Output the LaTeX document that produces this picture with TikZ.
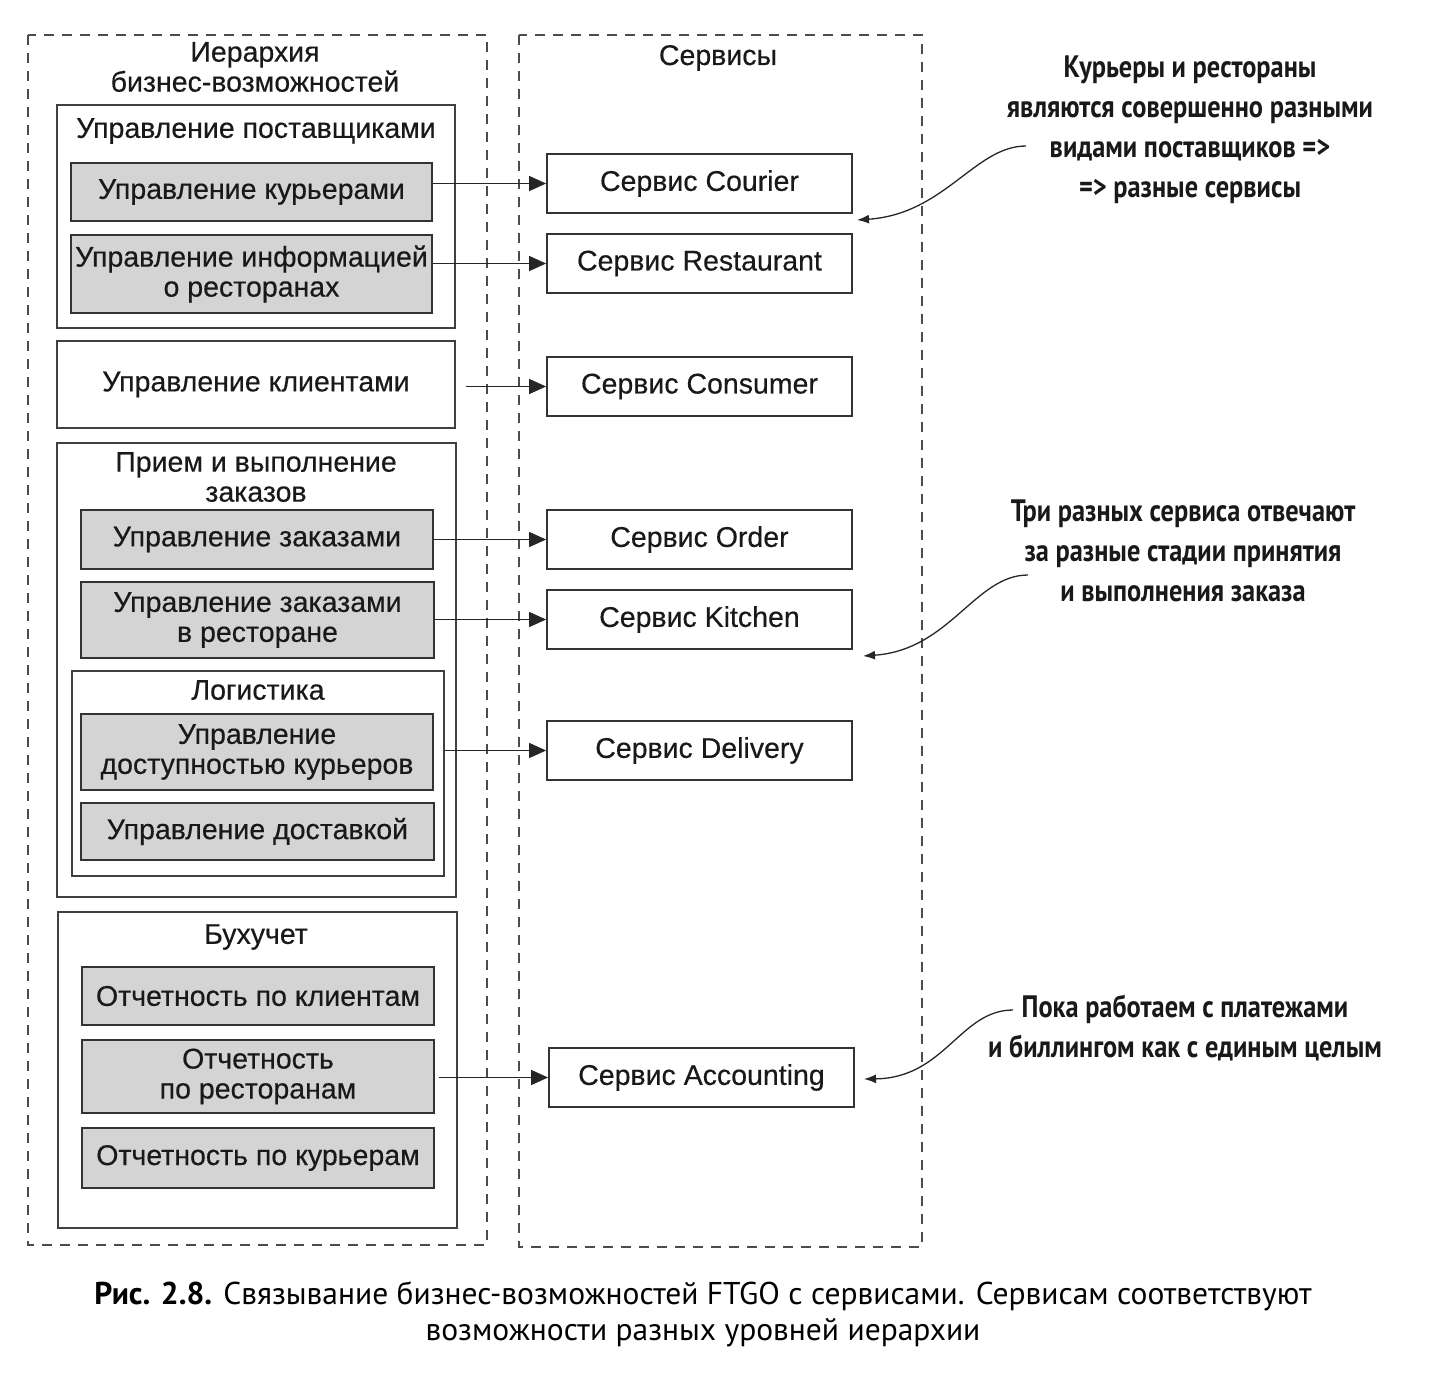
\documentclass[tikz,border=0pt]{standalone}
\usepackage{fontspec}
\setmainfont[FakeBold=0.4]{Liberation Sans}
\newfontfamily\notefont[FakeStretch=0.85]{PT Sans}
\newfontfamily\capfont{PT Sans}
\usetikzlibrary{arrows.meta, positioning}

\begin{document}
\begin{tikzpicture}[
    x=1pt, y=-1pt,
    every node/.style={font=\fontsize{28.5}{30}\selectfont, text=black!90, align=center, inner sep=0pt},
    dashframe/.style={draw=black!70, line width=1.3pt, dash pattern=on 10pt off 8pt},
    groupbox/.style={draw=black!75, line width=1.8pt, minimum width=398pt},
    capbox/.style={draw=black!80, line width=2pt, fill=black!17, minimum width=352pt},
    svcbox/.style={draw=black!80, line width=1.8pt, minimum width=305pt, minimum height=59pt},
    arrow/.style={-{Triangle[length=17pt,width=15pt]}, line width=1.5pt, black!85},
    notearrow/.style={-{Latex[length=12pt,width=9pt]}, line width=1.3pt, black!85},
    note/.style={font=\notefont\bfseries\fontsize{31}{40}\selectfont},
]
\useasboundingbox (0,0) rectangle (1432,1376);

% frames
\draw[dashframe] (28,35) rectangle (487,1245);
\draw[dashframe] (519,35) rectangle (922,1247);
\node (hiertitle) at (255,67) {Иерархия\\бизнес-возможностей};
\node (svctitle) at (718,58) {Сервисы};

% capability hierarchy
\node[groupbox, minimum height=223pt] (suppliers) at (256,216.5) {};
\node (supplierstitle) at (256,131) {Управление поставщиками};
\node[capbox, minimum width=361pt, minimum height=58pt] (courmgmt) at (251.5,192) {Управление курьерами};
\node[capbox, minimum width=361pt, minimum height=78pt] (restinfo) at (251.5,274) {Управление информацией\\о ресторанах};

\node[groupbox, minimum height=87pt] (clients) at (256,384.5) {Управление клиентами};

\node[groupbox, minimum width=399pt, minimum height=454pt] (orders) at (256.5,670) {};
\node (orderstitle) at (256,477) {Прием и выполнение\\заказов};
\node[capbox, minimum height=59pt] (ordermgmt) at (257,539.5) {Управление заказами};
\node[capbox, minimum width=353pt, minimum height=76pt] (restorder) at (257.5,620) {Управление заказами\\в ресторане};
\node[groupbox, minimum width=372pt, minimum height=205pt] (logistics) at (258,773.5) {};
\node (logisticstitle) at (258,690) {Логистика};
\node[capbox, minimum height=76pt] (availmgmt) at (257,752) {Управление\\доступностью курьеров};
\node[capbox, minimum width=353pt, minimum height=57pt] (delivmgmt) at (257.5,831.5) {Управление доставкой};

\node[groupbox, minimum width=399pt, minimum height=316pt] (accounting) at (257.5,1070) {};
\node (accountingtitle) at (256,937) {Бухучет};
\node[capbox, minimum height=58pt] (repclients) at (258,996) {Отчетность по клиентам};
\node[capbox, minimum height=73pt] (represt) at (258,1076.5) {Отчетность\\по ресторанам};
\node[capbox, minimum height=60pt] (repcour) at (258,1158) {Отчетность по курьерам};

% services
\node[svcbox] (svccourier) at (699.5,183.5) {Сервис Courier};
\node[svcbox] (svcrestaurant) at (699.5,263.5) {Сервис Restaurant};
\node[svcbox] (svcconsumer) at (699.5,386.5) {Сервис Consumer};
\node[svcbox] (svcorder) at (699.5,539.5) {Сервис Order};
\node[svcbox] (svckitchen) at (699.5,619.5) {Сервис Kitchen};
\node[svcbox] (svcdelivery) at (699.5,750.5) {Сервис Delivery};
\node[svcbox] (svcaccounting) at (701.5,1077.5) {Сервис Accounting};

\draw[arrow] (courmgmt.east |- svccourier.west) -- (svccourier.west);
\draw[arrow] (restinfo.east |- svcrestaurant.west) -- (svcrestaurant.west);
\draw[arrow] ([xshift=10pt]clients.east |- svcconsumer.west) -- (svcconsumer.west);
\draw[arrow] (ordermgmt.east |- svcorder.west) -- (svcorder.west);
\draw[arrow] (restorder.east |- svckitchen.west) -- (svckitchen.west);
\draw[arrow] (logistics.east |- svcdelivery.west) -- (svcdelivery.west);
\draw[arrow] ([xshift=4pt]represt.east |- svcaccounting.west) -- (svcaccounting.west);

% notes
\node[note] (note1) at (1190,130) {Курьеры и рестораны\\являются совершенно разными\\видами поставщиков =>\\=> разные сервисы};
\node[note] (note2) at (1183,551) {Три разных сервиса отвечают\\за разные стадии принятия\\и выполнения заказа};
\node[note] (note3) at (1185,1028) {Пока работаем с платежами\\и биллингом как с единым целым};
\coordinate (note1start) at (1026,146);
\coordinate (note1end) at (857,220);
\coordinate (note2start) at (1028,575);
\coordinate (note2end) at (863,656);
\coordinate (note3start) at (1013,1010);
\coordinate (note3end) at (864,1079);
\draw[notearrow] (note1start) .. controls (975,146) and (945,214) .. (note1end);
\draw[notearrow] (note2start) .. controls (975,575) and (950,650) .. (note2end);
\draw[notearrow] (note3start) .. controls (960,1010) and (945,1078) .. (note3end);

% caption
\node[font=\capfont\fontsize{31.5}{36}\selectfont, text=black] (caption) at (703,1314)
  {{\bfseries Рис. 2.8.} Связывание бизнес-возможностей FTGO с сервисами. Сервисам соответствуют\\возможности разных уровней иерархии};
\end{tikzpicture}
\end{document}
